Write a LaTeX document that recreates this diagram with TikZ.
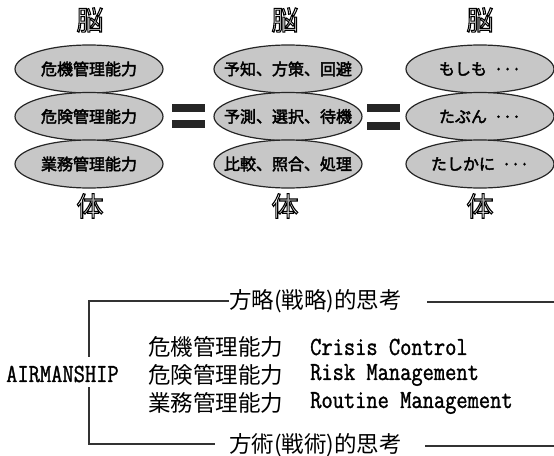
\documentclass[tikz,border=0pt]{standalone}
\usepackage{fontspec}
\newfontfamily\cjk{Noto Sans CJK JP}
\newfontfamily\cjkb[FakeBold=2.5]{Noto Sans CJK JP}
\newfontfamily\cjkhead[FakeBold=4]{Noto Sans CJK JP}
\newfontfamily\monof[FakeStretch=0.84,FakeBold=1.2]{Latin Modern Mono}
\newcommand\outlinetext[1]{\special{pdf:literal direct 1 g}#1\special{pdf:literal direct 0 g}}
\begin{document}
\begin{tikzpicture}[x=1pt,y=-1pt,
  ovtext/.style={inner sep=0pt,font=\cjkb\fontsize{16}{17}\selectfont},
  ovshape/.style={draw=black!85,line width=1.2pt,fill=black!22},
  bar/.style={rectangle,fill=black!85,minimum width=33pt,minimum height=8pt,inner sep=0pt},
  head/.style={inner sep=0pt,font=\cjkhead\fontsize{27}{28}\selectfont},
  jp/.style={inner sep=0pt,anchor=west,font=\cjk\fontsize{22.5}{24}\selectfont},
  en/.style={inner sep=0pt,anchor=west,font=\monof\fontsize{26}{27}\selectfont},
  ln/.style={draw=black!80,line width=1.4pt}]
\useasboundingbox (0,0) rectangle (554,455);
% column heads
\node[head] (h1) at (90,20) {\outlinetext{脳}};
\node[head] (h2) at (285,20) {\outlinetext{脳}};
\node[head] (h3) at (480,20) {\outlinetext{脳}};
\node[head] (f1) at (90,206) {\outlinetext{体}};
\node[head] (f2) at (285,206) {\outlinetext{体}};
\node[head] (f3) at (480,206) {\outlinetext{体}};
% ellipses
\coordinate (a1) at (89,69);
\coordinate (a2) at (89,116.5);
\coordinate (a3) at (89,164);
\coordinate (b1) at (288,69);
\coordinate (b2) at (288,116.5);
\coordinate (b3) at (288,164);
\coordinate (c1) at (480,69);
\coordinate (c2) at (480,116.5);
\coordinate (c3) at (480,164);
\foreach \p in {a1,a2,a3,b1,b2,b3,c1,c2,c3}
  \draw[ovshape] (\p) ellipse [x radius=74pt, y radius=24pt];
\node[ovtext] (ta1) at (a1) {危機管理能力};
\node[ovtext] (ta2) at (a2) {危険管理能力};
\node[ovtext] (ta3) at (a3) {業務管理能力};
\node[ovtext] (tb1) at (b1) {予知、方策、回避};
\node[ovtext] (tb2) at (b2) {予測、選択、待機};
\node[ovtext] (tb3) at (b3) {比較、照合、処理};
\node[ovtext] (tc1) at (c1) {もしも\ \ ···};
\node[ovtext] (tc2) at (c2) {たぶん\ \ ···};
\node[ovtext] (tc3) at (c3) {たしかに\ \ ···};
% equal signs
\node[bar] (e1) at (188.5,107.5) {};
\node[bar] (e2) at (188.5,124) {};
\node[bar] (e3) at (383.5,108) {};
\node[bar] (e4) at (383.5,126) {};
% bottom part
\node[en] (air) at (6,374) {AIRMANSHIP};
\node[jp] (strat) at (229,301) {方略(戦略)的思考};
\node[jp] (tact) at (229,445) {方術(戦術)的思考};
\node[jp] (j1) at (148,347) {危機管理能力};
\node[jp] (j2) at (148,375) {危険管理能力};
\node[jp] (j3) at (148,403) {業務管理能力};
\node[en] (k1) at (310,347) {Crisis Control};
\node[en] (k2) at (310,375) {Risk Management};
\node[en] (k3) at (310,403) {Routine Management};
\coordinate (tl) at (89,301);
\coordinate (bl) at (89,444);
\coordinate (v1) at (89,357);
\coordinate (v2) at (89,387);
\coordinate (tb) at (215,444);
\coordinate (tr1) at (427,302);
\coordinate (tr2) at (554,302);
\coordinate (br1) at (425,446);
\coordinate (br2) at (554,446);
\draw[ln] (strat.west) -- (tl) -- (v1);
\draw[ln] (v2) -- (bl) -- (tb);
\draw[ln] (tr1) -- (tr2);
\draw[ln] (br1) -- (br2);
\end{tikzpicture}
\end{document}
